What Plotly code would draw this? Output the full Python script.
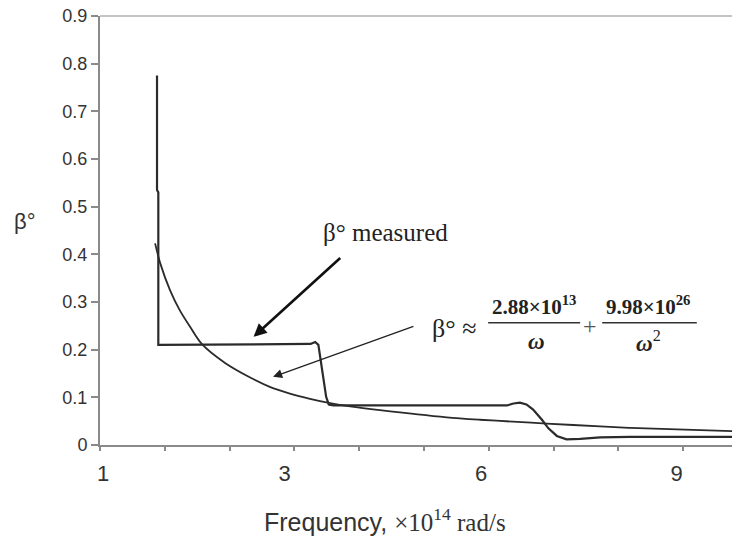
import plotly.graph_objects as go

# ---- data (x in axis units, one unit per minor tick) ----
x_measured = [0.88, 0.88, 0.90, 0.90, 3.25, 3.32, 3.37, 3.42, 3.49, 3.53, 3.60, 4.50, 5.50,
              6.28, 6.38, 6.48, 6.58, 6.68, 6.82, 6.92, 7.05, 7.20, 7.41, 7.72, 8.18, 9.76]
y_measured = [0.775, 0.535, 0.530, 0.210, 0.212, 0.216, 0.210, 0.164, 0.101, 0.085, 0.083, 0.083, 0.083,
              0.083, 0.087, 0.089, 0.085, 0.075, 0.053, 0.035, 0.019, 0.012, 0.013, 0.016, 0.017, 0.017]

x_fit = [0.85, 0.93, 1.08, 1.23, 1.39, 1.57, 1.93, 2.31, 2.62, 2.93, 3.24, 3.55, 3.86,
         4.32, 5.35, 5.86, 6.37, 6.89, 7.72, 8.18, 9.76]
y_fit = [0.423, 0.381, 0.325, 0.283, 0.248, 0.212, 0.172, 0.142, 0.122, 0.108, 0.097, 0.088, 0.081,
         0.073, 0.058, 0.053, 0.049, 0.045, 0.039, 0.036, 0.029]

x_tick_labels = ["1", "3", "6", "9"]
x_tick_positions = [0.05, 2.85, 5.88, 8.90]
y_tick_values = [0, 0.1, 0.2, 0.3, 0.4, 0.5, 0.6, 0.7, 0.8, 0.9]
y_tick_labels = ["0", "0.1", "0.2", "0.3", "0.4", "0.5", "0.6", "0.7", "0.8", "0.9"]

LINE = "#2b2b2b"
AXIS = "#8a8a8a"
TXT = "#333333"
SANS = "Liberation Sans, Arial, sans-serif"
SERIF = "Liberation Serif, Times New Roman, serif"

fig = go.Figure()
fig.add_trace(go.Scatter(x=x_measured, y=y_measured, mode="lines",
                         line=dict(color=LINE, width=2.2), showlegend=False))
fig.add_trace(go.Scatter(x=x_fit, y=y_fit, mode="lines",
                         line=dict(color=LINE, width=1.8, shape="spline", smoothing=0.8),
                         showlegend=False))

fig.update_layout(
    width=732, height=543,
    margin=dict(l=100, r=0, t=16, b=98),
    paper_bgcolor="white", plot_bgcolor="white",
    xaxis=dict(range=[0, 9.753], showgrid=False, zeroline=False,
               showline=True, linecolor=AXIS, linewidth=2,
               tickmode="array", tickvals=x_tick_positions, ticktext=x_tick_labels,
               ticks="", tickfont=dict(family=SANS, size=22, color=TXT),
               ticklabelstandoff=8,
               minor=dict(tick0=0, dtick=1, ticks="outside", ticklen=4, tickcolor=AXIS, tickwidth=1.5)),
    yaxis=dict(range=[0, 0.9], showgrid=False, zeroline=False,
               showline=True, linecolor=AXIS, linewidth=2,
               tickmode="array", tickvals=y_tick_values, ticktext=y_tick_labels,
               ticks="outside", ticklen=7, tickcolor=AXIS, tickwidth=1.5,
               tickfont=dict(family=SANS, size=18, color=TXT)),
)

# top border line
fig.add_shape(type="line", xref="paper", yref="paper", x0=0, x1=1, y0=1, y1=1,
              line=dict(color="#b0b0b0", width=1.5))

# axis titles
fig.add_annotation(xref="paper", yref="paper", x=0.451, y=-0.175, showarrow=False,
                   xanchor="center", yanchor="middle",
                   text="Frequency, <span style='font-family:Liberation Serif'>×10<sup>14</sup> rad/s</span>",
                   font=dict(family=SANS, size=25, color=TXT))
fig.add_annotation(xref="paper", yref="paper", x=-0.119, y=0.52, showarrow=False,
                   xanchor="center", yanchor="middle", text="β°",
                   font=dict(family=SANS, size=22, color=TXT))

# "measured" label with thick arrow
fig.add_annotation(x=4.41, y=0.445, text="β° measured", showarrow=False,
                   xanchor="center", yanchor="middle",
                   font=dict(family=SERIF, size=25, color="#222"))
fig.add_annotation(x=2.37, y=0.227, ax=3.73, ay=0.395, axref="x", ayref="y",
                   text="", showarrow=True, arrowhead=2, arrowsize=1.0, arrowwidth=2.6,
                   arrowcolor="#111")

# fitted formula with thin arrow
fig.add_annotation(x=2.67, y=0.143, ax=4.86, ay=0.250, axref="x", ayref="y",
                   text="", showarrow=True, arrowhead=2, arrowsize=1.4, arrowwidth=1.3,
                   arrowcolor="#222")
fig.add_annotation(x=5.09, y=0.245, text="β° ≈", showarrow=False, xanchor="left", yanchor="middle",
                   font=dict(family=SERIF, size=26, color="#222"))
fig.add_annotation(x=6.70, y=0.292, text="<b>2.88×10<sup>13</sup></b>", showarrow=False,
                   xanchor="center", yanchor="middle", font=dict(family=SERIF, size=21, color="#222"))
fig.add_annotation(x=6.74, y=0.218, text="<b><i>ω</i></b>", showarrow=False,
                   xanchor="center", yanchor="middle", font=dict(family=SERIF, size=23, color="#222"))
fig.add_annotation(x=7.56, y=0.249, text="+", showarrow=False,
                   xanchor="center", yanchor="middle", font=dict(family=SERIF, size=24, color="#555"))
fig.add_annotation(x=8.46, y=0.292, text="<b>9.98×10<sup>26</sup></b>", showarrow=False,
                   xanchor="center", yanchor="middle", font=dict(family=SERIF, size=21, color="#222"))
fig.add_annotation(x=8.46, y=0.218, text="<b><i>ω</i></b><sup>2</sup>", showarrow=False,
                   xanchor="center", yanchor="middle", font=dict(family=SERIF, size=23, color="#222"))
fig.add_shape(type="line", xref="x", yref="y", x0=5.99, x1=7.41, y0=0.2566, y1=0.2566,
              line=dict(color="#333", width=1.5))
fig.add_shape(type="line", xref="x", yref="y", x0=7.75, x1=9.21, y0=0.2566, y1=0.2566,
              line=dict(color="#333", width=1.5))

fig.write_html("out.html")
